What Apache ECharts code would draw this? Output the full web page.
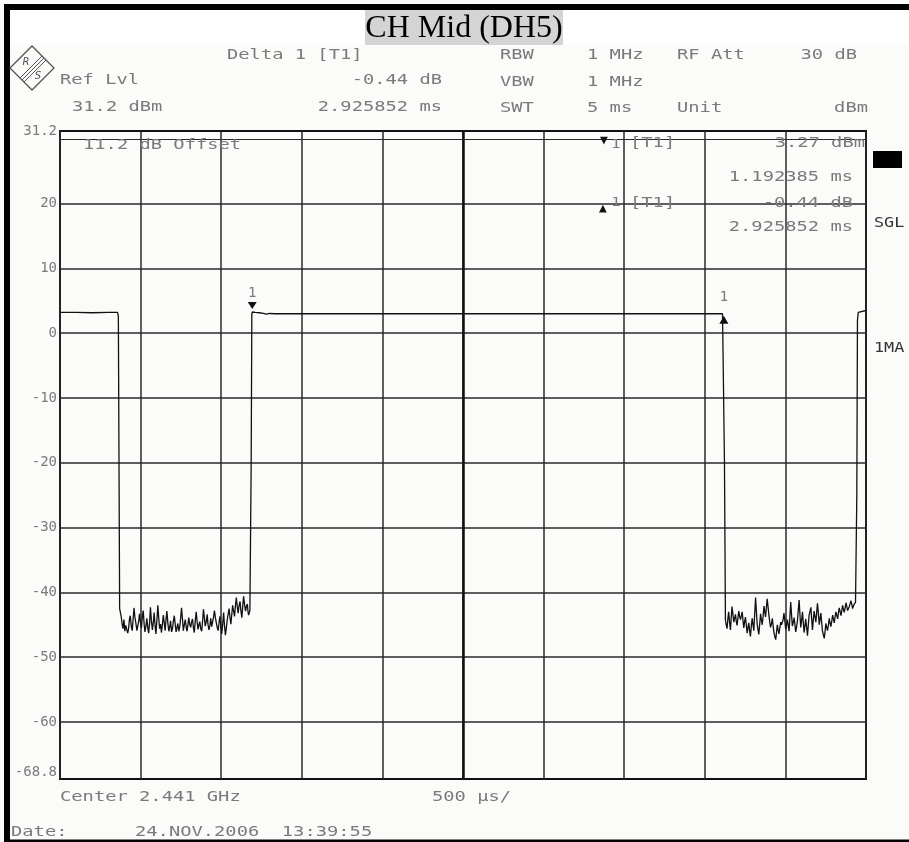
<!DOCTYPE html>
<html>
<head>
<meta charset="utf-8">
<script src="https://cdn.jsdelivr.net/npm/echarts@6/dist/echarts.min.js"></script>
<style>
html,body{margin:0;padding:0;background:#fbfcfa;}
#chart{width:909px;height:842px;}
</style>
</head>
<body>
<div id="chart"></div>
<script>
// ---- data ----
const yTickLabels = [-68.8, -60, -50, -40, -30, -20, -10, 0, 10, 20, 31.2];
const yGridValues = [20, 10, 0, -10, -20, -30, -40, -50, -60];
const displayLine = 30;
const centerTime = 2.5;
const marker1 = [1.192385, 3.27];
const delta1 = [4.118237, 2.83];

const burstA = [[0,3.2],[0.1,3.2],[0.2,3.15],[0.3,3.2],[0.357,3.2],[0.362,2.6],[0.370,-42.5]];
const noiseA = [
 [0.380,-43.8],[0.386,-45.0],[0.391,-45.6],[0.397,-44.2],[0.402,-46.0],[0.408,-45.1],[0.414,-44.9],[0.420,-46.3],[0.425,-45.7],[0.431,-44.1],[0.436,-43.6],[0.442,-45.2],[0.448,-45.9],[0.454,-44.0],[0.459,-42.4],
 [0.465,-43.9],[0.471,-44.8],[0.477,-45.9],[0.482,-46.2],[0.488,-44.5],[0.493,-43.3],[0.499,-44.6],[0.505,-45.5],[0.511,-43.7],[0.516,-42.8],[0.522,-44.9],[0.527,-46.1],[0.533,-45.2],[0.539,-44.0],[0.545,-45.6],[0.550,-46.3],
 [0.556,-44.7],[0.561,-42.3],[0.567,-44.4],[0.573,-45.8],[0.579,-44.6],[0.584,-43.1],[0.590,-45.2],[0.595,-46.4],[0.601,-44.3],[0.607,-42.0],[0.612,-43.8],[0.618,-45.6],[0.624,-44.9],[0.629,-46.2],[0.635,-45.0],[0.641,-43.5],
 [0.647,-44.8],[0.652,-45.9],[0.658,-44.1],[0.663,-42.9],[0.669,-44.7],[0.675,-46.0],[0.681,-45.3],[0.686,-44.4],[0.692,-46.1],[0.697,-45.7],[0.703,-44.5],[0.709,-43.6],[0.715,-45.0],[0.720,-46.1],[0.726,-45.4],[0.731,-44.8],
 [0.737,-46.0],[0.743,-45.3],[0.749,-43.8],[0.754,-42.4],[0.760,-44.2],[0.765,-45.9],[0.771,-45.0],[0.777,-44.2],[0.783,-45.4],[0.788,-46.0],[0.794,-44.9],[0.799,-43.9],[0.805,-45.0],[0.811,-45.4],[0.816,-44.6],[0.822,-44.1],
 [0.828,-45.5],[0.833,-46.2],[0.839,-44.4],[0.845,-43.0],[0.851,-44.6],[0.856,-45.7],[0.862,-45.0],[0.867,-44.5],[0.873,-45.6],[0.879,-46.0],[0.885,-44.3],[0.890,-42.6],[0.896,-44.0],[0.901,-45.2],[0.907,-44.6],[0.913,-43.4],
 [0.918,-44.9],[0.924,-45.8],[0.930,-45.1],[0.935,-44.0],[0.941,-45.3],[0.947,-45.1],[0.952,-43.9],[0.958,-42.8],[0.964,-43.9],[0.969,-44.6],[0.975,-45.4],[0.981,-45.9],[0.986,-44.8],[0.992,-43.7],[0.998,-45.2],[1.003,-46.4],
 [1.009,-45.0],[1.015,-43.1],[1.020,-45.0],[1.026,-46.6],[1.032,-45.5],[1.037,-44.3],[1.043,-43.4],[1.049,-42.5],[1.054,-43.8],[1.060,-44.9],[1.066,-43.3],[1.071,-42.0],[1.077,-42.9],[1.083,-43.7],[1.088,-42.1],[1.094,-40.8],
 [1.100,-42.3],[1.105,-43.2],[1.111,-42.0],[1.117,-41.4],[1.122,-42.8],[1.128,-43.9],[1.134,-42.0],[1.139,-40.6],[1.145,-41.9],[1.151,-42.9],[1.156,-42.2],[1.162,-41.8],[1.166,-42.9],[1.170,-43.5],[1.178,-42.8]
];
const burstB = [
 [1.186,-20],[1.190,2.9],[1.1924,3.27],[1.200,3.45],[1.212,3.2],[1.224,2.95],[1.236,3.15],[1.248,3.35],
 [1.262,3.05],[1.280,2.95],[1.300,3.05],[1.330,3.0],[1.600,3.0],[2.000,3.0],[2.290,3.0],[2.297,3.3],[2.304,3.0],
 [2.650,3.0],[2.653,3.2],[2.657,3.0],[3.000,3.0],[3.420,3.0],[3.424,3.15],[3.428,3.0],[3.800,3.0],[4.110,3.0],
 [4.1182,2.83],[4.122,-20]
];
const noiseB = [
 [4.128,-44.3],[4.133,-45.0],[4.138,-45.6],[4.143,-44.1],[4.148,-43.0],[4.154,-44.7],[4.159,-45.8],[4.164,-43.9],[4.169,-42.2],[4.175,-43.5],[4.180,-44.6],[4.185,-44.0],[4.190,-43.4],[4.195,-44.4],[4.200,-45.1],[4.206,-43.8],
 [4.211,-42.9],[4.216,-43.7],[4.221,-44.2],[4.227,-43.6],[4.232,-43.0],[4.237,-44.4],[4.242,-45.5],[4.247,-44.5],[4.252,-43.8],[4.258,-45.2],[4.263,-46.3],[4.268,-45.4],[4.273,-44.7],[4.278,-45.9],[4.283,-46.8],[4.289,-45.1],
 [4.294,-44.0],[4.299,-45.0],[4.304,-45.9],[4.310,-43.1],[4.315,-40.8],[4.320,-42.9],[4.325,-44.9],[4.330,-45.8],[4.335,-46.5],[4.341,-44.8],[4.346,-43.3],[4.351,-44.2],[4.356,-45.0],[4.362,-43.6],[4.367,-42.1],[4.372,-43.0],
 [4.377,-43.8],[4.382,-42.3],[4.387,-41.0],[4.393,-42.4],[4.398,-43.6],[4.403,-44.6],[4.408,-45.4],[4.414,-44.8],[4.419,-44.0],[4.424,-45.2],[4.429,-46.2],[4.435,-46.9],[4.440,-47.3],[4.445,-46.1],[4.450,-45.0],[4.455,-45.8],
 [4.460,-46.4],[4.466,-45.4],[4.471,-44.6],[4.476,-45.0],[4.481,-45.3],[4.486,-44.2],[4.491,-43.2],[4.497,-44.5],[4.502,-45.7],[4.507,-45.0],[4.512,-44.2],[4.518,-45.2],[4.523,-46.0],[4.528,-43.7],[4.533,-41.5],[4.538,-43.4],
 [4.543,-45.2],[4.549,-44.6],[4.554,-43.9],[4.559,-45.0],[4.564,-46.1],[4.570,-45.2],[4.575,-44.3],[4.580,-42.7],[4.585,-41.2],[4.590,-43.3],[4.595,-45.4],[4.601,-44.2],[4.606,-43.0],[4.611,-44.7],[4.616,-46.2],[4.621,-45.2],
 [4.626,-44.1],[4.632,-45.5],[4.637,-46.7],[4.642,-45.1],[4.647,-43.5],[4.653,-42.9],[4.658,-42.3],[4.663,-44.1],[4.668,-45.8],[4.673,-44.3],[4.678,-42.9],[4.684,-43.8],[4.689,-44.6],[4.694,-43.1],[4.699,-41.7],[4.705,-43.4],
 [4.710,-45.0],[4.715,-44.1],[4.720,-43.2],[4.725,-44.6],[4.730,-46.0],[4.736,-46.6],[4.741,-47.1],[4.746,-46.0],[4.751,-44.8],[4.756,-45.4],[4.761,-45.9],[4.767,-45.0],[4.772,-44.0],[4.777,-44.7],[4.782,-45.3],[4.788,-44.4],
 [4.793,-43.5],[4.798,-44.1],[4.803,-44.7],[4.808,-43.8],[4.813,-43.0],[4.819,-43.6],[4.824,-44.1],[4.829,-43.2],[4.834,-42.4],[4.840,-43.0],[4.845,-43.6],[4.850,-42.8],[4.855,-42.0],[4.860,-42.6],[4.865,-43.1],[4.871,-42.3],
 [4.876,-41.6],[4.881,-42.2],[4.886,-42.8],[4.891,-42.5],[4.896,-42.2],[4.902,-41.7],[4.907,-41.3],[4.912,-41.9],[4.917,-42.5],[4.921,-42.2],[4.925,-41.9],[4.935,-41.5]
];
const burstC = [[4.943,-25],[4.947,2.0],[4.952,3.2],[4.960,3.5],[5.0,3.5]];

// ---- rendering ----
const FONT = '"DejaVu Sans Mono", monospace';
const SX = 1.34;
function txt(str, x, y, o) {
  o = o || {};
  return {
    type: 'text', x: x, y: y, scaleX: o.sx || SX, silent: true, z: 100,
    style: {
      text: str, fill: o.fill || '#7a7a7a',
      font: (o.size || 14) + 'px ' + (o.family || FONT),
      textAlign: o.align || 'left', textVerticalAlign: 'middle'
    }
  };
}

const trace = [].concat(burstA, noiseA, burstB, noiseB, burstC);
const gridLineStyle = { color: '#2a2a2a', width: 1.5, type: 'solid' };

const chart = echarts.init(document.getElementById('chart'), null, { renderer: 'canvas' });
chart.setOption({
  animation: false,
  backgroundColor: '#fbfcfa',
  grid: { left: 60, right: 43, top: 131, bottom: 63, show: true, borderColor: '#111', borderWidth: 2, backgroundColor: 'transparent' },
  xAxis: {
    type: 'value', min: 0, max: 5, interval: 0.5,
    axisLine: { show: false }, axisTick: { show: false }, axisLabel: { show: false },
    splitLine: { show: true, lineStyle: gridLineStyle }
  },
  yAxis: {
    type: 'value', min: -68.8, max: 31.2,
    axisLine: { show: false }, axisTick: { show: false },
    splitLine: { show: false },
    axisLabel: {
      customValues: yTickLabels, margin: 3, color: '#7a7a7a',
      fontFamily: 'DejaVu Sans Mono', fontSize: 14,
      verticalAlignMinLabel: 'bottom', verticalAlignMaxLabel: 'middle',
      formatter: function (v) { return String(v); }
    }
  },
  series: [{
    type: 'line', data: trace, showSymbol: false, symbol: 'none',
    lineStyle: { color: '#111', width: 1.3 }, z: 5,
    markLine: {
      silent: true, symbol: ['none', 'none'], label: { show: false },
      lineStyle: gridLineStyle, animation: false,
      data: yGridValues.map(v => ({ yAxis: v }))
        .concat([{ yAxis: displayLine, lineStyle: { color: '#2a2a2a', width: 1.2, type: 'solid' } },
                 { xAxis: centerTime, lineStyle: { color: '#111', width: 2.5, type: 'solid' } }])
    },
    markPoint: {
      silent: true, animation: false, symbol: 'triangle',
      itemStyle: { color: '#111' },
      label: { show: true, color: '#7a7a7a', fontFamily: 'DejaVu Sans Mono', fontSize: 14, position: 'inside', formatter: '1' },
      data: [
        { coord: marker1, symbolSize: [9, 7], symbolRotate: 180, symbolOffset: [0, -6.5], label: { offset: [0, -12.5] } },
        { coord: delta1, symbolSize: [9, 8], symbolOffset: [0, 5], label: { offset: [0, -22] } }
      ]
    }
  }],
  graphic: [
    // outer frame
    { type: 'rect', shape: { x: 4, y: 4, width: 6, height: 838 }, style: { fill: '#000' }, silent: true },
    { type: 'rect', shape: { x: 4, y: 4, width: 905, height: 6 }, style: { fill: '#000' }, silent: true },
    { type: 'rect', shape: { x: 4, y: 839.5, width: 905, height: 3 }, style: { fill: '#000' }, silent: true },
    { type: 'rect', shape: { x: 10, y: 10, width: 899, height: 35 }, style: { fill: '#ffffff' }, silent: true, z: -1 },
    // title
    { type: 'rect', shape: { x: 365, y: 10, width: 198, height: 35 }, style: { fill: '#d4d4d4' }, silent: true },
    { type: 'text', x: 464, y: 29, silent: true, style: { text: 'CH Mid (DH5)', fill: '#000', font: '32px "Liberation Serif", serif', textAlign: 'center', textVerticalAlign: 'middle' } },
    // R&S logo
    { type: 'polygon', shape: { points: [[10, 68], [32, 46], [54, 68], [32, 90]] }, style: { fill: 'none', stroke: '#555', lineWidth: 1.3 }, silent: true },
    { type: 'line', shape: { x1: 22, y1: 80, x2: 44, y2: 58 }, style: { stroke: '#555', lineWidth: 1 }, silent: true },
    { type: 'line', shape: { x1: 24, y1: 82, x2: 46, y2: 60 }, style: { stroke: '#555', lineWidth: 1 }, silent: true },
    { type: 'line', shape: { x1: 20, y1: 78, x2: 42, y2: 56 }, style: { stroke: '#555', lineWidth: 1 }, silent: true },
    { type: 'text', x: 26, y: 62, silent: true, style: { text: 'R', fill: '#555', font: 'italic 10px "DejaVu Sans"', textAlign: 'center', textVerticalAlign: 'middle' } },
    { type: 'text', x: 38, y: 76, silent: true, style: { text: 'S', fill: '#555', font: 'italic 10px "DejaVu Sans"', textAlign: 'center', textVerticalAlign: 'middle' } },
    // header
    txt('Delta 1 [T1]', 227, 55),
    txt('Ref Lvl', 60, 80),
    txt('31.2 dBm', 72, 107),
    txt('-0.44 dB', 442, 80, { align: 'right' }),
    txt('2.925852 ms', 442, 107, { align: 'right' }),
    txt('RBW', 500, 55), txt('VBW', 500, 82), txt('SWT', 500, 108),
    txt('1 MHz', 587, 55), txt('1 MHz', 587, 82), txt('5 ms', 587, 108),
    txt('RF Att', 677, 55), txt('Unit', 677, 108),
    txt('30 dB', 857, 55, { align: 'right' }),
    txt('dBm', 868, 108, { align: 'right' }),
    // in-plot texts
    txt('11.2 dB Offset', 83, 145),
    txt('\u25BC', 600, 141, { fill: '#111', size: 13, sx: 1.0 }),
    txt('1', 611, 145, { size: 12 }),
    txt('[T1]', 630, 143),
    txt('3.27 dBm', 865, 143, { align: 'right' }),
    txt('1.192385 ms', 853, 177, { align: 'right' }),
    txt('\u25B2', 599, 209, { fill: '#111', size: 13, sx: 1.0 }),
    txt('1', 611, 203, { size: 12 }),
    txt('[T1]', 630, 203),
    txt('-0.44 dB', 853, 203, { align: 'right' }),
    txt('2.925852 ms', 853, 227, { align: 'right' }),
    // right side
    { type: 'rect', shape: { x: 873, y: 151, width: 29, height: 17 }, style: { fill: '#000' }, silent: true },
    txt('SGL', 874, 223, { fill: '#333', sx: 1.2 }),
    txt('1MA', 874, 348, { fill: '#333', sx: 1.2 }),
    // bottom
    txt('Center 2.441 GHz', 60, 797),
    txt('500 \u00B5s/', 432, 797),
    txt('Date:', 11, 832),
    txt('24.NOV.2006  13:39:55', 135, 832)
  ]
});
</script>
</body>
</html>
